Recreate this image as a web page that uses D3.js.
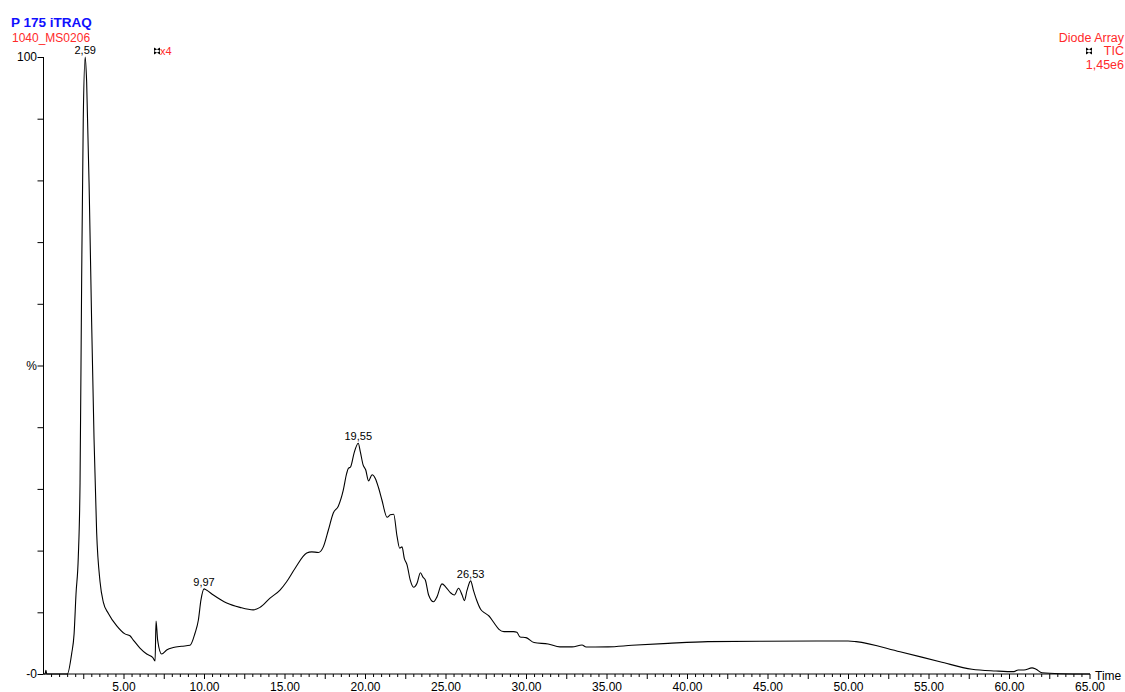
<!DOCTYPE html>
<html>
<head>
<meta charset="utf-8">
<script src="https://cdn.jsdelivr.net/npm/d3@7"></script>
<style>
  html, body { margin: 0; padding: 0; background: #fff; }
  svg { display: block; font-family: "Liberation Sans", Arial, sans-serif; }
</style>
</head>
<body>
<svg id="chart" width="1125" height="692"></svg>
<script>
// TIC trace, retention time (min) vs relative intensity (%)
const rt = [
  0, 0.1, 0.15, 0.2, 1.48, 1.75, 1.9, 2.02, 2.16, 2.27, 2.37, 2.47, 2.59, 2.68, 2.85, 2.99, 3.14, 3.3, 3.51, 3.71, 4.03, 4.55, 5.06, 5.37,
  5.58, 5.99, 6.41, 6.78, 6.93, 6.99, 7.09, 7.34, 7.65, 8.06, 8.58, 9.1, 9.41, 9.62, 9.78, 9.97, 10.12, 10.55, 11.38, 12.2, 13.03, 13.45, 14.07, 14.69,
  15.1, 15.62, 16.35, 16.66, 17.07, 17.38, 17.69, 18.0, 18.31, 18.62, 18.83, 18.93, 19.08, 19.29, 19.55, 19.68, 19.85, 20.01, 20.19, 20.41, 20.61, 20.82,
  21.02, 21.34, 21.54, 21.75, 21.96, 22.12, 22.27, 22.41, 22.58, 22.78, 22.99, 23.2, 23.41, 23.57, 23.72, 23.92, 24.23, 24.44, 24.75, 25.0,
  25.27, 25.52, 25.78, 26.0, 26.14, 26.3, 26.53, 26.7, 26.9, 27.15, 27.4, 27.67, 27.98, 28.29, 28.6, 29.2, 29.4, 29.6, 29.97, 30.47,
  31.34, 32.08, 32.83, 33.45, 33.7, 35.06, 36.55, 38.79, 41.27, 44.5, 49.97, 50.47, 53.2, 55.68, 57.67, 59.16, 60.28, 60.53, 60.9, 61.4,
  61.65, 62.02, 63.14, 65
];
const pct = [
  0, 0, 0.6, 0, 0, 3.3, 6.5, 13, 18.9, 31, 64, 90, 100, 96, 77, 57, 38, 23, 15, 11.7, 9.8, 7.8, 6.5, 6.2,
  5.5, 4.2, 3.24, 2.7, 2.1, 8.6, 5.5, 3.24, 3.9, 4.3, 4.5, 4.65, 6.6, 8.75, 12, 13.8, 13.6, 12.8, 11.5, 10.8, 10.4, 10.8, 12.3, 13.6,
  14.96, 17.1, 19.6, 19.8, 19.7, 20.6, 23.3, 26.1, 27.2, 29.8, 32.5, 33.3, 33.6, 35.8, 37.4, 36.0, 33.9, 33.1, 31.3, 32.3, 31.7, 30.1,
  28.2, 25.4, 25.8, 25.9, 22.3, 20.4, 20.6, 18.75, 17.7, 15.2, 14.05, 14.7, 16.4, 15.7, 15.2, 12.8, 11.7, 12.5, 14.6, 14.05,
  13.2, 12.8, 13.9, 12.8, 11.9, 13.5, 15.1, 13.6, 12.0, 10.5, 9.9, 9.4, 8.3, 7.24, 6.86, 6.86, 6.76, 6.0, 5.9, 5.1,
  4.86, 4.4, 4.4, 4.7, 4.38, 4.4, 4.65, 4.97, 5.24, 5.3, 5.35, 5.24, 3.6, 2.0, 0.76, 0.49, 0.38, 0.65, 0.65, 1.0,
  0.76, 0.2, 0.05, 0
];

// annotated peaks
const peakTimes = [2.59, 9.97, 19.55, 26.53];
const peakLabels = ["2,59", "9,97", "19,55", "26,53"];

const xTickLabels = ["5.00", "10.00", "15.00", "20.00", "25.00", "30.00", "35.00", "40.00", "45.00", "50.00", "55.00", "60.00", "65.00"];

const svg = d3.select("#chart");
const red = "#ff2a2a";

const x = d3.scaleLinear().domain([0, 65]).range([43.5, 1090]);
const y = d3.scaleLinear().domain([0, 100]).range([674, 57]);

const data = rt.map((t, i) => ({ t, v: pct[i] }));

// header text
svg.append("text").attr("x", 11).attr("y", 27)
  .attr("fill", "#1010ff").attr("font-weight", "bold").attr("font-size", 13.5)
  .text("P 175 iTRAQ");
svg.append("text").attr("x", 12).attr("y", 42)
  .attr("fill", red).attr("font-size", 12)
  .text("1040_MS0206");

const right = svg.append("g").attr("text-anchor", "end").attr("fill", red).attr("font-size", 12.5);
right.append("text").attr("x", 1124).attr("y", 42).text("Diode Array");
right.append("text").attr("x", 1124).attr("y", 55).text("TIC");
right.append("text").attr("x", 1124).attr("y", 69).text("1,45e6");

// little bow-tie markers
function marker(cx, cy) {
  svg.append("path")
    .attr("d", `M${cx - 3},${cy - 3.5}L${cx + 3},${cy}L${cx - 3},${cy + 3.5}Z M${cx + 3},${cy - 3.5}L${cx - 3},${cy}L${cx + 3},${cy + 3.5}Z`)
    .attr("fill", "#000");
}
marker(157, 51);
svg.append("text").attr("x", 160).attr("y", 55).attr("fill", red).attr("font-size", 11).text("x4");
marker(1089, 51);

// y axis: ticks every 10, labels only at 100, 50 (%) and 0
const yAxis = d3.axisLeft(y).tickValues(d3.range(0, 101, 10)).tickSize(6).tickFormat("");
const gy = svg.append("g").attr("transform", "translate(43.5,0)").call(yAxis);
gy.select(".domain").attr("d", `M0,${y(100)}V${y(0)}`).attr("stroke", "#000");
gy.selectAll(".tick line").attr("stroke", "#000");
const yl = svg.append("g").attr("text-anchor", "end").attr("font-size", 12).attr("fill", "#000");
yl.append("text").attr("x", 37).attr("y", y(100) + 4).text("100");
yl.append("text").attr("x", 37).attr("y", y(50) + 4).text("%");
yl.append("text").attr("x", 37).attr("y", y(0) + 4).text("-0");

// x axis: minor ticks every 0.5, longer every 2.5, labels every 5
const gx = svg.append("g").attr("transform", `translate(0,${y(0)})`);
gx.append("line").attr("x1", x(0)).attr("x2", x(65)).attr("stroke", "#000");
gx.selectAll("line.tk").data(d3.range(1, 131).map(d => d / 2)).join("line")
  .attr("class", "tk")
  .attr("x1", d => x(d)).attr("x2", d => x(d))
  .attr("y1", 0).attr("y2", d => (d % 2.5 === 0 ? 5 : 3))
  .attr("stroke", "#000");
gx.selectAll("text").data(xTickLabels).join("text")
  .attr("x", d => x(+d)).attr("y", 16.5)
  .attr("text-anchor", "middle").attr("font-size", 12).attr("fill", "#000")
  .text(d => d);
svg.append("text").attr("x", 1095).attr("y", 680).attr("font-size", 12).attr("fill", "#000").text("Time");

// trace
const line = d3.line().x(d => x(d.t)).y(d => y(d.v)).curve(d3.curveMonotoneX);
svg.append("path").datum(data)
  .attr("d", line).attr("fill", "none").attr("stroke", "#000").attr("stroke-width", 1.1);

// peak labels
svg.append("g").attr("font-size", 11).attr("text-anchor", "middle").attr("fill", "#000")
  .selectAll("text").data(peakTimes).join("text")
  .attr("x", d => x(d))
  .attr("y", d => {
    const i = d3.minIndex(rt, t => Math.abs(t - d));
    return y(pct[i]) - 3;
  })
  .text((d, i) => peakLabels[i]);
</script>
</body>
</html>
